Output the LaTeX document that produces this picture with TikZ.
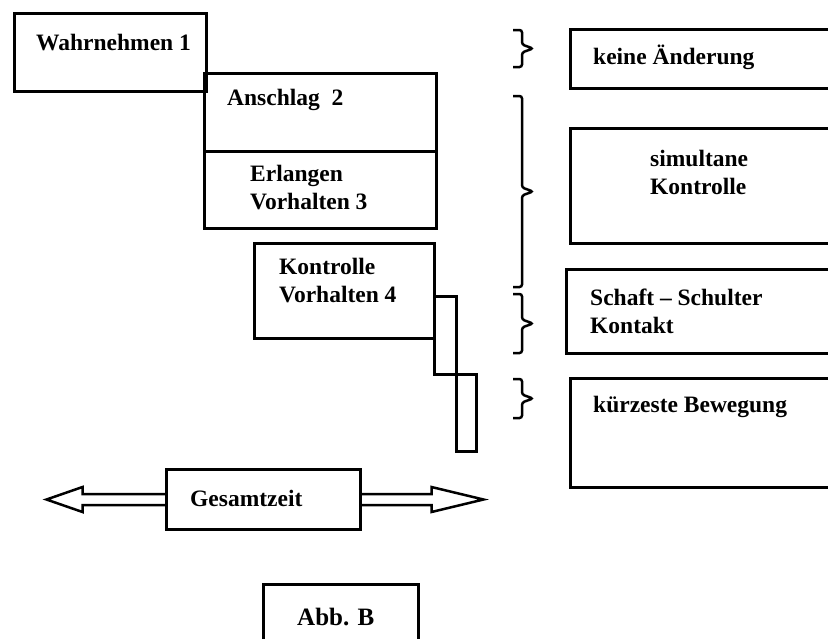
\documentclass[tikz,border=0pt]{standalone}
\usepackage{fontspec}
\setmainfont{Liberation Serif}
\usetikzlibrary{arrows.meta}
\tikzset{
  kasten/.style={draw, line width=3pt, rectangle, inner sep=0pt, anchor=north west},
  schrift/.style={anchor=west, align=left, inner sep=0pt, font=\fontsize{23.5}{28}\selectfont\bfseries},
  klammer/.style={line width=2.5pt, rounded corners=2.5pt},
  blockpfeil/.style={line width=2.5pt, line join=miter},
}
% geschweifte Klammer: x, oben, unten
\newcommand{\klammerzu}[3]{%
  \draw [klammer] (#1,#2) -- (#1+9,#2) -- (#1+9,{(#2+#3)/2-4}) -- (#1+20,{(#2+#3)/2})
    -- (#1+9,{(#2+#3)/2+4}) -- (#1+9,#3) -- (#1,#3);}

\begin{document}
\begin{tikzpicture}[x=1pt, y=-1pt]
\clip (0,0) rectangle (828,638);
\fill[white] (0,0) rectangle (828,638);

% Phasen links
\node (wahr) [kasten, minimum width=192, minimum height=78] at (13,12) {};
\node (anschlag) [kasten, minimum width=232, minimum height=78] at (203,72) {};
\node (erlangen) [kasten, minimum width=232, minimum height=77] at (203,150) {};
\node (kontrolle) [kasten, minimum width=180, minimum height=95] at (253,242) {};
\node (schmal1) [kasten, minimum width=22, minimum height=78] at (433,295) {};
\node (schmal2) [kasten, minimum width=20, minimum height=77] at (455,373) {};

\node [schrift] at (36,43) {Wahrnehmen 1};
\node [schrift] at (227,100) {Anschlag\ \ 2};
\node [schrift] at (250,188) {Erlangen\\Vorhalten 3};
\node [schrift] at (279,281) {Kontrolle\\Vorhalten 4};

% Klammern
\klammerzu{513}{30}{67}
\klammerzu{513}{96}{287}
\klammerzu{513}{294}{353}
\klammerzu{513}{379}{418}

% Merkmale rechts
\node (keine) [kasten, minimum width=300, minimum height=59] at (569,28) {};
\node (simultan) [kasten, minimum width=300, minimum height=115] at (569,127) {};
\node (schaft) [kasten, minimum width=300, minimum height=84] at (565,268) {};
\node (kurz) [kasten, minimum width=300, minimum height=109] at (569,377) {};

\node [schrift] at (593,57) {keine Änderung};
\node [schrift] at (650,172) {simultane\\Kontrolle};
\node [schrift] at (590,311) {Schaft -- Schulter\\Kontakt};
\node [schrift] at (593,407) {kürzeste Bewegung};

% Gesamtzeit
\node (gesamt) [kasten, minimum width=194, minimum height=60] at (165,468) {};
\node [schrift] at (190,498) {Gesamtzeit};
\path (gesamt.west) ++(-118.5,0) coordinate (links);
\path (gesamt.east) ++(121.5,0) coordinate (rechts);
\draw [blockpfeil] ([yshift=5.5pt]gesamt.west) -- ([xshift=36pt,yshift=5.5pt]links)
  -- ([xshift=36pt,yshift=12.5pt]links) -- (links) -- ([xshift=36pt,yshift=-12.5pt]links)
  -- ([xshift=36pt,yshift=-5.5pt]links) -- ([yshift=-5.5pt]gesamt.west);
\draw [blockpfeil] ([yshift=5.5pt]gesamt.east) -- ([xshift=-52pt,yshift=5.5pt]rechts)
  -- ([xshift=-52pt,yshift=12.5pt]rechts) -- (rechts) -- ([xshift=-52pt,yshift=-12.5pt]rechts)
  -- ([xshift=-52pt,yshift=-5.5pt]rechts) -- ([yshift=-5.5pt]gesamt.east);

% Abbildung
\node (abb) [kasten, minimum width=155, minimum height=80] at (262,583) {};
\node [schrift, font=\fontsize{25}{28}\selectfont\bfseries] at (297,617) {Abb. B};
\end{tikzpicture}
\end{document}
